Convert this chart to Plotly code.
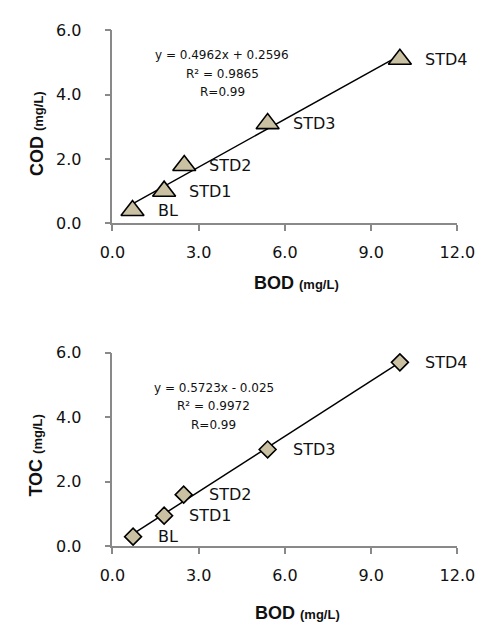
import plotly.graph_objects as go

# Calibration standards
labels = ["BL", "STD1", "STD2", "STD3", "STD4"]
bod = [0.7, 1.8, 2.5, 5.4, 10.0]
cod = [0.4, 1.0, 1.8, 3.1, 5.1]
toc_bod = [0.72, 1.8, 2.48, 5.4, 10.0]
toc = [0.3, 0.95, 1.6, 3.0, 5.7]

# Linear fit coefficients (slope, intercept)
cod_fit = (0.4962, 0.2596)
toc_fit = (0.5723, -0.025)

cod_eq = ["y = 0.4962x + 0.2596", "R² = 0.9865", "R=0.99"]
toc_eq = ["y = 0.5723x - 0.025", "R² = 0.9972", "R=0.99"]

x_ticks = [0, 3, 6, 9, 12]
y_ticks = [0, 2, 4, 6]

W, H = 496, 631
FILL = "#C9C1A1"
AXIS = "#898989"
TICK_FONT = dict(family="DejaVu Sans", size=16, color="#111111")

fig = go.Figure()


def add_panel(xs, ys, fit, symbol, msize, xa, ya):
    x0, x1 = min(xs), max(xs)
    fig.add_trace(go.Scatter(
        x=[x0, x1], y=[fit[0] * x0 + fit[1], fit[0] * x1 + fit[1]],
        mode="lines", line=dict(color="black", width=1.5),
        xaxis=xa, yaxis=ya, hoverinfo="skip", showlegend=False))
    fig.add_trace(go.Scatter(
        x=xs, y=ys, mode="markers",
        marker=dict(symbol=symbol, size=msize, color=FILL,
                    line=dict(color="black", width=1.6)),
        xaxis=xa, yaxis=ya, showlegend=False))
    for lab, xv, yv in zip(labels, xs, ys):
        fig.add_annotation(x=xv, y=yv, xref=xa, yref=ya, text=lab,
                           showarrow=False, xanchor="left", yanchor="middle",
                           xshift=23, font=dict(family="DejaVu Sans", size=16, color="#111111"))


add_panel(bod, cod, cod_fit, "triangle-up", 20, "x", "y")
add_panel(toc_bod, toc, toc_fit, "diamond", 13, "x2", "y2")

xdom = [106 / W, 474 / W]
top_dom = [1 - 221 / H, 1 - 22 / H]
bot_dom = [1 - 554 / H, 1 - 354.3 / H]

axis_common = dict(showgrid=False, zeroline=False, showline=True, linecolor=AXIS,
                   linewidth=1.5, ticks="outside", ticklen=6, tickcolor=AXIS,
                   tickwidth=1.5, tickformat=".1f", tickfont=TICK_FONT)

fig.update_layout(
    width=W, height=H, margin=dict(l=0, r=0, t=0, b=0),
    paper_bgcolor="white", plot_bgcolor="white",
    xaxis=dict(domain=xdom, range=[0, 12], tickvals=x_ticks, anchor="y",
               ticklabelstandoff=8, **axis_common),
    yaxis=dict(domain=top_dom, range=[0, 6], tickvals=y_ticks, anchor="x",
               ticklabelstandoff=20, **axis_common),
    xaxis2=dict(domain=xdom, range=[0, 12], tickvals=x_ticks, anchor="y2",
                ticklabelstandoff=8, **axis_common),
    yaxis2=dict(domain=bot_dom, range=[0, 6], tickvals=y_ticks, anchor="x2",
                ticklabelstandoff=20, **axis_common),
)

# Regression equations
for eq, (cx, ys) in [(cod_eq, (223, [47, 66.7, 86])), (toc_eq, (214, [390.7, 409.7, 428.7]))]:
    for line, yp in zip(eq, ys):
        fig.add_annotation(x=cx / W, y=1 - yp / H, xref="paper", yref="paper",
                           text=line, showarrow=False, xanchor="center", yanchor="middle",
                           font=dict(family="DejaVu Sans", size=12, color="#111111"))

# Axis titles
unit = "<b><span style='font-size:13px'>(mg/L)</span></b>"
titles = [
    ("<b>BOD</b> " + unit, 302, 283, 0),
    ("<b>COD</b> " + unit, 25, 128.5, -90),
    ("<b>BOD</b> " + unit, 303, 623, 0),
    ("<b>TOC</b> " + unit, 25, 460, -90),
]
for txt, px, py, ang in titles:
    fig.add_annotation(x=px / W, y=1 - py / H, xref="paper", yref="paper", text=txt,
                       showarrow=False, textangle=ang, xanchor="center", yanchor="middle",
                       font=dict(family="Liberation Sans", size=18, color="#111111"))

fig.write_html("out.html")
